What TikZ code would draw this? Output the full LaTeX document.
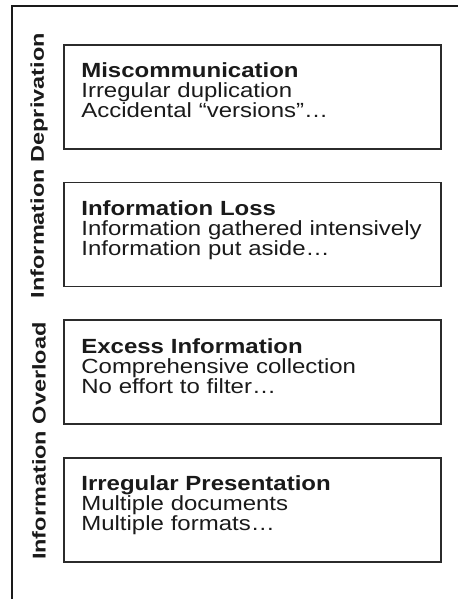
\documentclass[tikz,border=0pt]{standalone}
\usepackage{fontspec}
\setmainfont{Liberation Sans}
\newfontfamily\boxfont{Liberation Sans}[FakeStretch=1.17]
\newfontfamily\sidefont{Liberation Sans}[FakeStretch=1.27]
\usepackage{tikz}
\usetikzlibrary{positioning,calc}
\definecolor{ink}    {HTML}{1A1A1A}
\definecolor{rule}   {HTML}{2B2B2B}
\tikzset{
  % --- nodes
  mod/.style  = {draw=rule, line width=1.7pt, rectangle, anchor=north west,
                 minimum width=376pt, minimum height=104pt, text width=342pt,
                 inner xsep=17.5pt, inner ysep=0pt, align=left, text=ink,
                 text depth=53pt,
                 font=\boxfont\fontsize{20.5}{20}\selectfont},
  side/.style = {rotate=90, text=ink, inner sep=0pt,
                 font=\sidefont\fontsize{18.5}{22}\selectfont\bfseries},
  % --- lines
  frame/.style= {draw=ink, line width=1.2pt},
}
\begin{document}
\begin{tikzpicture}[x=1pt,y=1pt, node distance=32pt]
  \useasboundingbox (0,0) rectangle (458,-599);
  % open frame: left and top only
  \draw[frame] (12,-599) -- (12,-6) -- (458,-6);

  % boxes, top to bottom
  \node[mod] (miscomm) at (63,-44)
    {\textbf{Miscommunication}\\Irregular duplication\\Accidental “versions”…};
  \node[mod, below=of miscomm.south west, anchor=north west] (loss)
    {\textbf{Information Loss}\\Information gathered intensively\\Information put aside…};
  \node[mod, below=of loss.south west, anchor=north west] (excess)
    {\textbf{Excess Information}\\Comprehensive collection\\No effort to filter…};
  \node[mod, below=of excess.south west, anchor=north west] (irreg)
    {\textbf{Irregular Presentation}\\Multiple documents\\Multiple formats…};

  % side labels
  \coordinate (dep) at ($(miscomm.north west)!0.5!(loss.south west)$);
  \coordinate (ovl) at ($(excess.north west)!0.5!(irreg.south west)$);
  \node[side] (deplab) at ([xshift=-24pt]dep) {Information Deprivation};
  \node[side] (ovllab) at ([xshift=-24pt]ovl) {Information Overload};
\end{tikzpicture}
\end{document}
